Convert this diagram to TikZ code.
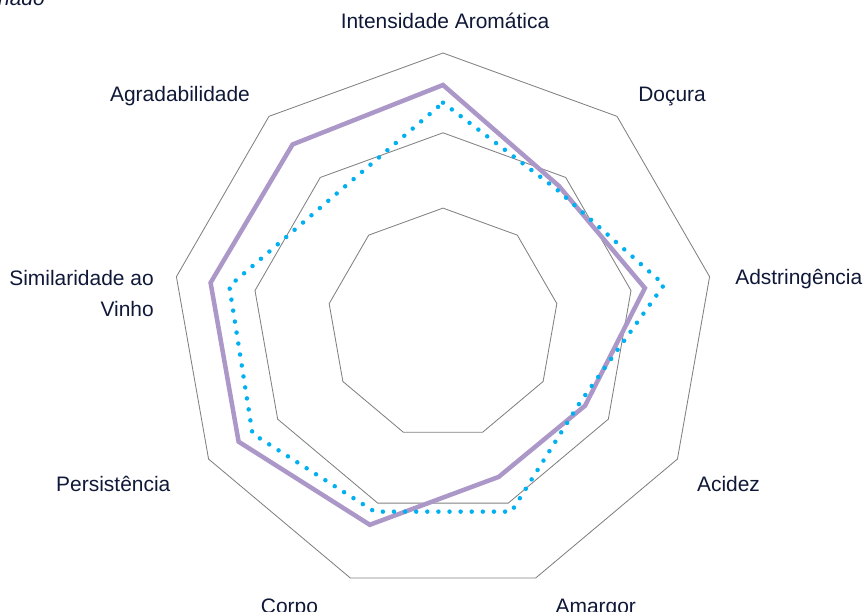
\documentclass[tikz,border=0pt]{standalone}
\usepackage{fontspec}
\setmainfont{Liberation Sans}
\definecolor{labeltext}{RGB}{16,24,56}
\definecolor{gridgray}{RGB}{128,128,128}
\definecolor{lavender}{RGB}{172,152,200}
\definecolor{skyblue}{RGB}{0,176,240}

\begin{document}
\begin{tikzpicture}[x=0.025cm,y=0.025cm,
  lbl/.style={text=labeltext,font=\fontsize{14.9}{22.5}\selectfont,inner sep=0pt},
  ring/.style={draw=gridgray,line width=0.6pt},
  seriesA/.style={draw=lavender,line width=3.2pt},
  seriesB/.style={draw=skyblue,line width=3.2pt,line cap=round,dash pattern=on 0pt off 7.9pt}]
\useasboundingbox (0,0) rectangle (863,612);
% grid and the two profiles
\begin{scope}[shift={(443,288.3)}]
\foreach \r in {115.6,190.9,270.7}
  \draw[ring] (90:\r) \foreach \a in {50,10,...,-230} {-- (\a:\r)} -- cycle;
\draw[seriesA] (90:238.7) -- (50:180) -- (10:205) -- (-30:164) -- (-70:163)
  -- (-110:214) -- (-150:236) -- (170:236) -- (130:234) -- cycle;
\draw[seriesB] (90:221) -- (50:176) -- (10:224.5) -- (-30:158) -- (-70:200)
  -- (-110:200) -- (-150:220) -- (170:217) -- (130:168) -- cycle;
\end{scope}
% axis labels
\node[lbl,anchor=base] (intens) at (445,583.7) {Intensidade Aromática};
\node[lbl,anchor=base west] (docura) at (638,510.3) {Doçura};
\node[lbl,anchor=base west] (adstr) at (735,327) {Adstringência};
\node[lbl,anchor=base] (acidez) at (728.5,120.3) {Acidez};
\node[lbl,anchor=base] (amargor) at (595.8,-1.3) {Amargor};
\node[lbl,anchor=base] (corpo) at (289.5,-1.3) {Corpo};
\node[lbl,anchor=base] (persist) at (113.3,120.3) {Persistência};
\node[lbl,anchor=north east,align=right] (simil) at (154,342.3) {Similaridade ao\\Vinho};
\node[lbl,anchor=base] (agrad) at (180,510.3) {Agradabilidade};
\node[lbl,anchor=base east,font=\fontsize{14.9}{22.5}\selectfont\itshape] (legend) at (45,606) {nado};
\end{tikzpicture}
\end{document}
